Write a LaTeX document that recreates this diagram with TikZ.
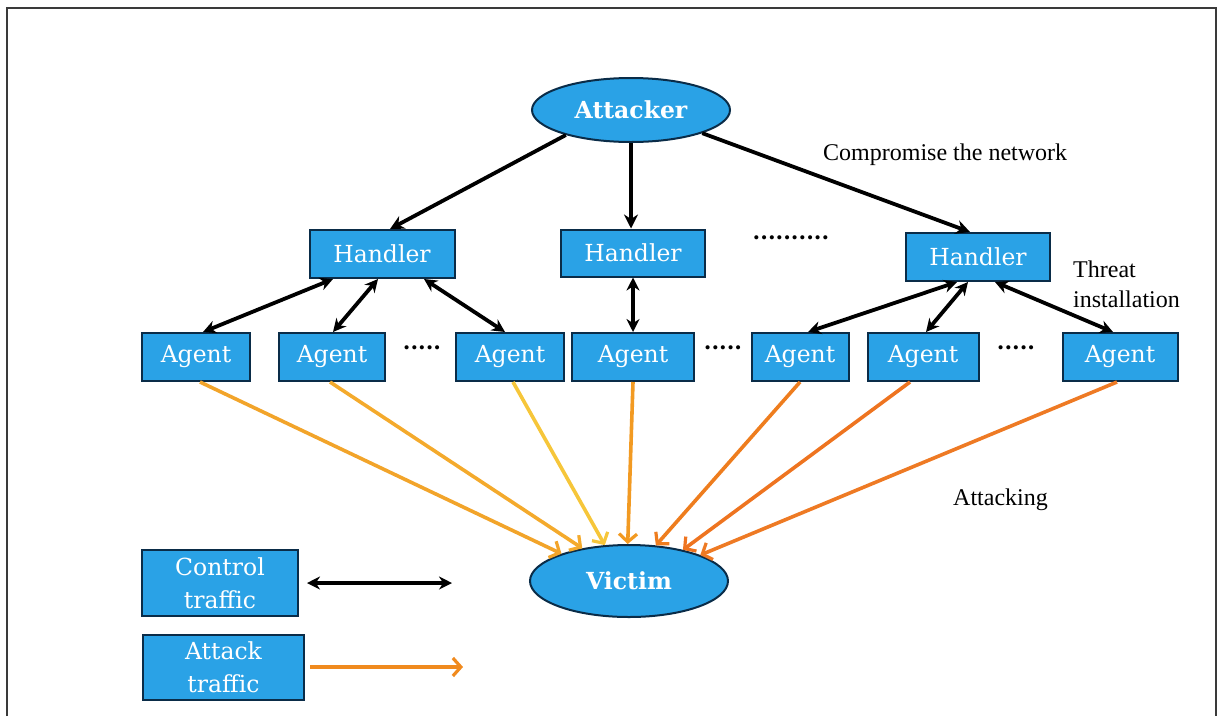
\documentclass[tikz,border=0pt]{standalone}
\usepackage{fontspec}
\setmainfont{Liberation Serif}
\newfontfamily\boxfont{DejaVu Serif}
\usetikzlibrary{arrows.meta,shapes.geometric}
\definecolor{boxblue}{HTML}{2AA2E6}
\definecolor{boxedge}{HTML}{0A2C48}
\definecolor{frameg}{HTML}{3A3A3A}
\definecolor{oa}{HTML}{F2A42A}
\definecolor{ob}{HTML}{F4AA2C}
\definecolor{oc}{HTML}{F6C63A}
\definecolor{od}{HTML}{F29A22}
\definecolor{oe}{HTML}{EE7D1E}
\definecolor{of}{HTML}{EE7420}
\definecolor{og}{HTML}{EE7A24}
\definecolor{ol}{HTML}{F08A1E}
\tikzset{
  bluebox/.style={draw=boxedge, line width=2pt, fill=boxblue, text=white,
    inner sep=0pt, minimum height=48pt, font=\boxfont\fontsize{23.5}{26}\selectfont},
  blueell/.style={ellipse, draw=boxedge, line width=2pt, fill=boxblue, text=white,
    inner sep=0pt, font=\boxfont\bfseries\fontsize{23.5}{26}\selectfont},
  ctrl/.style={black, line width=3.8pt, {Stealth[length=13pt,width=13pt]}-{Stealth[length=13pt,width=13pt]}},
  cmd/.style={black, line width=3.8pt, -{Stealth[length=14pt,width=14pt]}},
  atk/.style={line width=3.6pt, -{Straight Barb[length=8pt,width=18pt,line width=3.2pt]}},
  lbl/.style={font=\fontsize{24}{28}\selectfont, text=black, inner sep=0pt},
  dots/.style={font=\boxfont\bfseries\fontsize{22}{24}\selectfont, inner sep=0pt}
}
\begin{document}
\begin{tikzpicture}[x=1pt,y=-1pt]
\useasboundingbox (0,0) rectangle (1218,716);
% frame
\draw[frameg, line width=2pt] (7,716) -- (7,8) -- (1216,8) -- (1216,716);

% nodes
\node[blueell, minimum width=198pt, minimum height=64pt] (att) at (631,110) {Attacker};
\node[blueell, minimum width=198pt, minimum height=72pt] (vic) at (629,581) {Victim};

\node[bluebox, minimum width=145pt] (h1) at (382,254) {Handler};
\node[bluebox, minimum width=144pt, minimum height=47pt] (h2) at (633,253) {Handler};
\node[bluebox, minimum width=144pt] (h3) at (978,257) {Handler};

\node[bluebox, minimum width=108pt] (a1) at (196,357) {Agent};
\node[bluebox, minimum width=106pt] (a2) at (332,357) {Agent};
\node[bluebox, minimum width=108pt] (a3) at (510,357) {Agent};
\node[bluebox, minimum width=122pt] (a4) at (633,357) {Agent};
\node[bluebox, minimum width=97pt]  (a5) at (800,357) {Agent};
\node[bluebox, minimum width=111pt] (a6) at (923,357) {Agent};
\node[bluebox, minimum width=115pt] (a7) at (1120,357) {Agent};

% dots
\node[dots] (d0) at (791,238) {..........};
\node[dots] (d1) at (422,348) {.....};
\node[dots] (d2) at (723,348) {.....};
\node[dots] (d3) at (1016,348) {.....};

% labels
\node[lbl, anchor=west] (l1) at (823,155) {Compromise the network};
\node[lbl, anchor=west, align=left] (l2) at (1073,284) {Threat\\[2pt]installation};
\node[lbl, anchor=west] (l3) at (953,500) {Attacking};

% attacker -> handlers
\draw[cmd] (att.201) -- ([xshift=8pt]h1.north);
\draw[cmd] (att.south) -- (att.south |- h2.north);
\draw[cmd] (att.-18) -- ([xshift=-8pt]h3.north);

% control traffic
\draw[ctrl] ([xshift=-49pt]h1.south) -- ([xshift=7pt]a1.north);
\draw[ctrl] ([xshift=-4pt]h1.south) -- ([xshift=1pt]a2.north);
\draw[ctrl] ([xshift=42pt]h1.south) -- ([xshift=-5pt]a3.north);
\draw[ctrl] (h2.south) -- (a4.north);
\draw[ctrl] ([xshift=-21pt]h3.south) -- ([xshift=8pt]a5.north);
\draw[ctrl] ([xshift=-10pt]h3.south) -- ([xshift=3pt]a6.north);
\draw[ctrl] ([xshift=17pt]h3.south) -- ([xshift=-7pt]a7.north);

% attack traffic
\draw[atk, oa] ([xshift=4pt]a1.south) -- (vic.158);
\draw[atk, ob] ([xshift=-2pt]a2.south) -- (vic.145);
\draw[atk, oc] ([xshift=3pt]a3.south) -- (vic.124);
\draw[atk, od] (a4.south) -- (vic.92);
\draw[atk, oe] (a5.south) -- (vic.53);
\draw[atk, of] ([xshift=-13pt]a6.south) -- (vic.30);
\draw[atk, og] ([xshift=-3pt]a7.south) -- (vic.20);

% legend
\node[bluebox, minimum width=156pt, minimum height=66pt, align=center,
  font=\boxfont\fontsize{23.5}{33}\selectfont] (lc) at (220,583) {Control\\traffic};
\node[bluebox, minimum width=161pt, minimum height=65pt, align=center,
  font=\boxfont\fontsize{23.5}{33}\selectfont] (la) at (223.5,667.5) {Attack\\traffic};
\coordinate (lce) at (452,583);
\coordinate (lae) at (463,667);
\draw[ctrl] ([xshift=8pt]lc.east) -- (lce);
\draw[atk, ol] ([xshift=5pt]la.east |- lae) -- (lae);
\end{tikzpicture}
\end{document}
